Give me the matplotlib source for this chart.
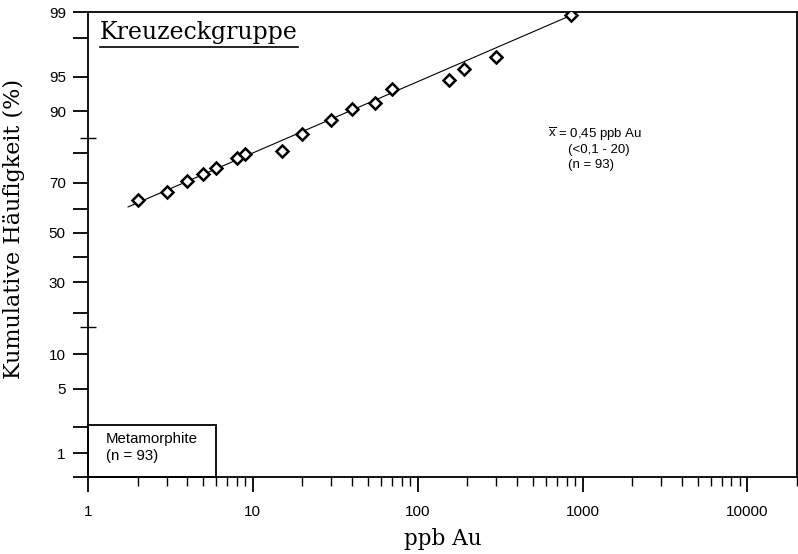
import numpy as np
import matplotlib
matplotlib.use("Agg")
import matplotlib.pyplot as plt
from matplotlib.ticker import FixedLocator, FixedFormatter, NullFormatter, LogLocator
from matplotlib.patches import Rectangle
from matplotlib.lines import Line2D
from statistics import NormalDist

# ---- data ----
ppb = [2, 3, 4, 5, 6, 8, 9, 15, 20, 30, 40, 55, 70, 155, 190, 300, 850]
cum = [63.3, 66.6, 70.8, 73.3, 75.2, 78.5, 79.6, 80.6, 85.1, 88.3, 90.4, 91.5,
       93.5, 94.6, 95.8, 96.8, 98.9]
fit_x = [1.75, 850]
fit_y = [60.7, 98.9]
ytick_labeled = [1, 5, 10, 30, 50, 70, 90, 95, 99]
ytick_plain = [0.5, 2, 20, 40, 60, 80, 98]
ytick_sigma = [16, 84]
xticks = [1, 10, 100, 1000, 10000]
xtick_labels = ["1", "10", "100", "1000", "10000"]

plt.rcParams["mathtext.fontset"] = "custom"
plt.rcParams["mathtext.rm"] = "Liberation Sans"
plt.rcParams["mathtext.it"] = "Liberation Sans:italic"

nd = NormalDist()
_inv = np.vectorize(nd.inv_cdf, otypes=[float])
_cdf = np.vectorize(nd.cdf, otypes=[float])


def fwd(p):
    p = np.asarray(p, dtype=float)
    q = np.clip(p / 100.0, 1e-12, 1 - 1e-12)
    bad = ~np.isfinite(q)
    q = np.where(bad, 0.5, q)
    out = _inv(q)
    return np.where(bad, np.nan, out)


def inv(z):
    z = np.asarray(z, dtype=float)
    bad = ~np.isfinite(z)
    out = _cdf(np.where(bad, 0.0, z)) * 100.0
    return np.where(bad, np.nan, out)


fig = plt.figure(figsize=(7.98, 5.54), dpi=100)
W, H = 798, 554
ax = fig.add_axes([88 / W, 1 - 477 / H, (797 - 88) / W, (477 - 12) / H])

ax.set_xscale("log")
ax.set_yscale("function", functions=(fwd, inv))
ax.set_xlim(1, 20000)
ax.set_ylim(0.5, 99)

ax.plot(fit_x, fit_y, color="black", lw=0.8, zorder=2)
ax.plot(ppb, cum, linestyle="none", marker="D", markersize=5.8,
        markerfacecolor="white", markeredgecolor="black", markeredgewidth=1.8,
        zorder=3)

sans = "Liberation Sans"
serif = "DejaVu Serif"

# y ticks
ymaj = sorted(ytick_labeled + ytick_plain)
ax.yaxis.set_major_locator(FixedLocator(ymaj))
ax.yaxis.set_major_formatter(FixedFormatter(
    [("%g" % v) if v in ytick_labeled else "" for v in ymaj]))
ax.yaxis.set_minor_locator(FixedLocator(ytick_sigma))
ax.yaxis.set_minor_formatter(NullFormatter())
ax.tick_params(axis="y", which="major", direction="out", length=11, width=1.3,
               pad=5, labelsize=11)
ax.tick_params(axis="y", which="minor", direction="inout", length=12, width=1.0)

# x ticks
ax.xaxis.set_major_locator(FixedLocator(xticks))
ax.xaxis.set_major_formatter(FixedFormatter(xtick_labels))
ax.xaxis.set_minor_locator(LogLocator(base=10, subs=np.arange(2, 10)))
ax.xaxis.set_minor_formatter(NullFormatter())
ax.tick_params(axis="x", which="major", direction="out", length=11, width=1.3,
               pad=9, labelsize=11)
ax.tick_params(axis="x", which="minor", direction="out", length=6.5, width=1.0)
for lab in ax.get_xticklabels() + ax.get_yticklabels():
    lab.set_fontfamily(sans)

for s in ax.spines.values():
    s.set_linewidth(1.3)

ax.set_xlabel("ppb Au", family=serif, fontsize=15.5, labelpad=7)
ax.set_ylabel("Kumulative Häufigkeit (%)", family=serif, fontsize=16)
ax.yaxis.set_label_coords(-0.089, 0.533)

# title with underline
t = ax.text(100 / W, 1 - 33 / H, "Kreuzeckgruppe", transform=fig.transFigure,
            family=serif, fontsize=17, va="center", ha="left")

# statistics annotation
fig.text(548 / W, 1 - 134 / H, r"$\overline{\mathrm{x}}$ = 0,45 ppb Au", family=sans,
         fontsize=9.5, va="center", ha="left")
fig.text(568 / W, 1 - 150 / H, "(<0,1 - 20)", family=sans, fontsize=9.5,
         va="center", ha="left")
fig.text(568 / W, 1 - 165 / H, "(n = 93)", family=sans, fontsize=9.5,
         va="center", ha="left")

# legend box
ax.add_patch(Rectangle((88 / W, 1 - 477 / H), (216 - 88) / W, (477 - 425) / H,
                       transform=fig.transFigure, fill=False, edgecolor="black",
                       lw=1.3, zorder=4, clip_on=False))
fig.text(106 / W, 1 - 439 / H, "Metamorphite", family=sans, fontsize=10.8,
         va="center", ha="left")
fig.text(106 / W, 1 - 456 / H, "(n = 93)", family=sans, fontsize=10.8,
         va="center", ha="left")

fig.canvas.draw()
bb = t.get_window_extent()
uy = bb.y0 - 2
fig.add_artist(Line2D([bb.x0 / W, bb.x1 / W], [uy / H, uy / H],
                      transform=fig.transFigure, color="black", lw=1.2))

fig.savefig("out.png", dpi=100)
